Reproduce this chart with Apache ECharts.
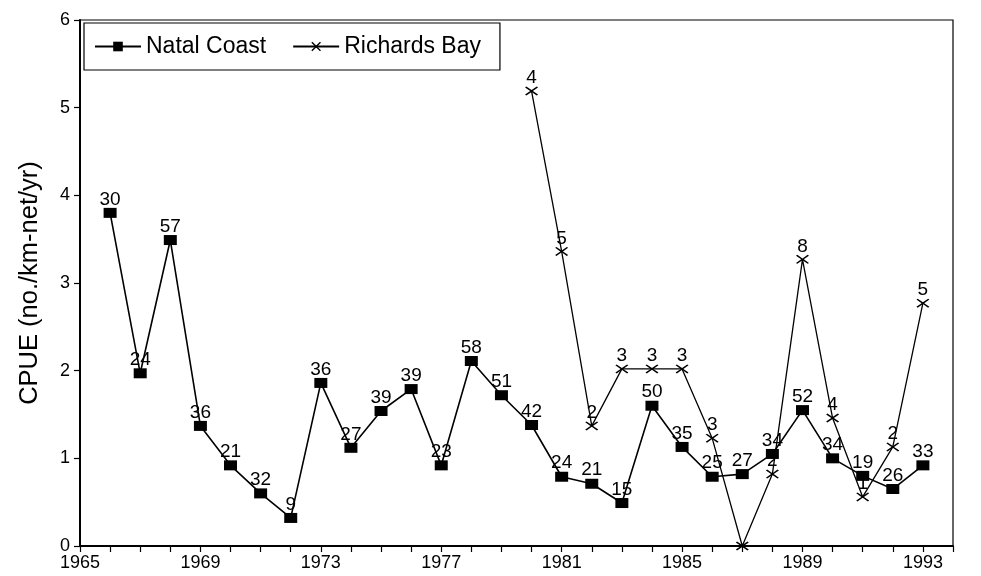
<!DOCTYPE html>
<html><head><meta charset="utf-8">
<script src="https://cdn.jsdelivr.net/npm/echarts@6/dist/echarts.min.js"></script>
<style>html,body{margin:0;padding:0;background:#fff}#c{width:981px;height:576px}</style>
</head><body><div id="c"></div>
<script>
const years = [1966,1967,1968,1969,1970,1971,1972,1973,1974,1975,1976,1977,1978,1979,1980,1981,1982,1983,1984,1985,1986,1987,1988,1989,1990,1991,1992,1993];
const natal = [3.80,1.97,3.49,1.37,0.92,0.60,0.32,1.86,1.12,1.54,1.79,0.92,2.11,1.72,1.38,0.79,0.71,0.49,1.60,1.13,0.79,0.82,1.05,1.55,1.00,0.80,0.65,0.92];
const natalN = [30,24,57,36,21,32,9,36,27,39,39,23,58,51,42,24,21,15,50,35,25,27,34,52,34,19,26,33];
const rbYears = [1980,1981,1982,1983,1984,1985,1986,1987,1988,1989,1990,1991,1992,1993];
const rb = [5.19,3.36,1.37,2.02,2.02,2.02,1.23,0.00,0.82,3.27,1.46,0.56,1.13,2.77];
const rbN = ['4','5','2','3','3','3','3','','2','8','4','1','2','5'];
const xTickLabels = [1965,1969,1973,1977,1981,1985,1989,1993];

const FONT = 'Liberation Sans, Arial, Helvetica, sans-serif';
const crossPath = 'path://M0,1L1,0L5,4L9,0L10,1L6,5L10,9L9,10L5,6L1,10L0,9L4,5Z';

const chart = echarts.init(document.getElementById('c'), null, {renderer:'canvas'});
chart.setOption({
  animation:false,
  backgroundColor:'#fff',
  textStyle:{fontFamily:FONT,color:'#000'},
  grid:{left:80,right:28,top:20,bottom:30,show:true,borderColor:'#000',borderWidth:1.2,backgroundColor:'transparent'},
  legend:{
    left:84, top:23,
    padding:[12,19,12,10],
    itemGap:26,
    itemWidth:46, itemHeight:12,
    borderColor:'#000', borderWidth:1.2,
    textStyle:{fontFamily:FONT,fontSize:23,color:'#000'},
    data:['Natal Coast','Richards Bay']
  },
  xAxis:{
    type:'value', min:1965, max:1994, interval:1,
    axisLine:{lineStyle:{color:'#000',width:2}},
    axisTick:{length:6,lineStyle:{color:'#000',width:1.2}},
    splitLine:{show:false},
    axisLabel:{
      fontFamily:FONT,fontSize:18,color:'#000',margin:8,
      formatter:function(v){return xTickLabels.indexOf(v)>=0 ? String(v) : '';}
    }
  },
  yAxis:{
    type:'value', min:0, max:6, interval:1,
    name:'CPUE (no./km-net/yr)', nameLocation:'middle', nameGap:37,
    nameTextStyle:{fontFamily:FONT,fontSize:25.5,color:'#000'},
    axisLine:{show:true,lineStyle:{color:'#000',width:2}},
    axisTick:{show:true,length:6,lineStyle:{color:'#000',width:1.2}},
    splitLine:{show:false},
    axisLabel:{fontFamily:FONT,fontSize:18,color:'#000',margin:10}
  },
  series:[
    {
      name:'Natal Coast', type:'line',
      data: years.map((y,i)=>[y,natal[i]]),
      symbol:'rect', symbolSize:[13,10],
      itemStyle:{color:'#000'},
      lineStyle:{color:'#000',width:1.6},
      label:{show:true,position:'top',distance:-1,fontFamily:FONT,fontSize:19,color:'#000',
        formatter:function(p){return String(natalN[p.dataIndex]);}},
      z:3
    },
    {
      name:'Richards Bay', type:'line',
      data: rbYears.map((y,i)=>[y,rb[i]]),
      symbol:crossPath, symbolSize:[13,9], symbolKeepAspect:false,
      itemStyle:{color:'#000'},
      lineStyle:{color:'#000',width:1.3},
      label:{show:true,position:'top',distance:-1,fontFamily:FONT,fontSize:19,color:'#000',
        formatter:function(p){return rbN[p.dataIndex];}},
      z:2
    }
  ]
});
</script></body></html>
